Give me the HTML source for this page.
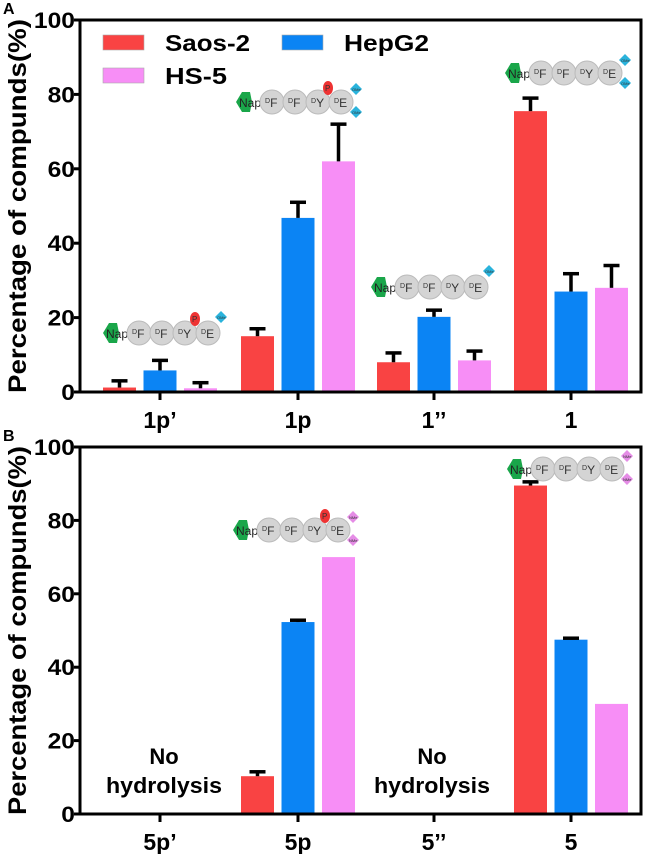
<!DOCTYPE html>
<html><head><meta charset="utf-8">
<style>
html,body{margin:0;padding:0;background:#fff;}
svg{display:block;font-family:"Liberation Sans",sans-serif;}
</style></head>
<body>
<svg id="chart" width="647" height="854" viewBox="0 0 647 854"></svg>
<script>
const categoriesA = ["1p’","1p","1’’","1"];
const saosA = [1.2, 15, 8, 75.5];
const hepA = [5.8, 46.8, 20.2, 27];
const hsA = [1, 62, 8.5, 28];
const saosErrA = [1.8, 2, 2.5, 3.5];
const hepErrA = [2.7, 4.2, 1.8, 4.8];
const hsErrA = [1.5, 10, 2.5, 6];
const categoriesB = ["5p’","5p","5’’","5"];
const saosB = [0, 10.3, 0, 89.5];
const hepB = [0, 52.3, 0, 47.5];
const hsB = [0, 70, 0, 30];
const saosErrB = [0, 1.2, 0, 1];
const hepErrB = [0, 0.5, 0, 0.4];
const hsErrB = [0, 0, 0, 0];
const yTicks = [0, 20, 40, 60, 80, 100];
const seriesNames = ["Saos-2","HepG2","HS-5"];

const NS="http://www.w3.org/2000/svg";
const svg=document.getElementById('chart');
const colors=["#f94343","#0b84f4","#f78ef6"];
function mk(tag,attrs,parent){const e=document.createElementNS(NS,tag);for(const k in attrs)e.setAttribute(k,attrs[k]);(parent||svg).appendChild(e);return e;}

const X0=80,X1=641,catX=[160,298,434,571],barW=33,step=40.5;

function panel(name,top,bottom,cats,vals,errs,letter){
  const g=mk('g',{});
  
  
  const y=v=>bottom-(bottom-top)*v/100;
  const L=mk('text',{x:3,y:top-6,'font-size':16,'font-weight':'bold'},g);L.textContent=letter;
  
  
  for(let s=0;s<3;s++){
    for(let i=0;i<cats.length;i++){
      const v=vals[s][i]; if(v<=0) continue;
      const cx=catX[i]+(s-1)*step;
      const r=mk('rect',{x:cx-barW/2,y:y(v),width:barW,height:bottom-y(v),fill:colors[s]},g);
      
      
      const e=errs[s][i];
      if(e>0){
        const eg=mk('g',{stroke:'#000','stroke-width':3.5},g);
        
        
        mk('line',{x1:cx,x2:cx,y1:y(v),y2:y(v+e)},eg);
        mk('line',{x1:cx-8,x2:cx+8,y1:y(v+e),y2:y(v+e)},eg);
      }
    }
  }
  const box=mk('rect',{x:X0,y:top,width:X1-X0,height:bottom-top,fill:'none',stroke:'#000','stroke-width':3},g);
  
  
  yTicks.forEach(t=>{
    mk('line',{x1:X0-6,x2:X0,y1:y(t),y2:y(t),stroke:'#000','stroke-width':3},g);
    const digits=String(t).length;
    const attrs={x:X0-5,y:y(t)+8,'font-size':22,'font-weight':'bold','text-anchor':'end',textLength:digits*13.7,lengthAdjust:'spacingAndGlyphs'};
    const tx=mk('text',attrs,g);
    tx.textContent=t;
    
    
  });
  cats.forEach((c,i)=>{
    mk('line',{x1:catX[i],x2:catX[i],y1:bottom,y2:bottom+8,stroke:'#000','stroke-width':3},g);
    const tx=mk('text',{x:catX[i],y:bottom+36,'font-size':23,'font-weight':'bold','text-anchor':'middle'},g);
    tx.textContent=c;
    
    
  });
  const cy=(top+bottom)/2;
  const yt=mk('text',{x:0,y:0,transform:`translate(26,${cy}) rotate(-90)`,'font-size':25,'font-weight':'bold','text-anchor':'middle',textLength:(bottom-top)+2,lengthAdjust:'spacingAndGlyphs'},g);
  yt.textContent='Percentage of compunds(%)';
  
  
  return {g,y};
}

function molecule(x,cy,phospho,tagColor,tagText,twoTags){
  const g=mk('g',{});
  
  
  mk('polygon',{points:`${x},${cy} ${x+6},${cy-10} ${x+14},${cy-10} ${x+16},${cy} ${x+14},${cy+10} ${x+6},${cy+10}`,fill:'#1aa64a'},g);
  const n=mk('text',{x:x+3,y:cy+5,'font-size':12,fill:'#222'},g);n.textContent='Nap';
  const labs=['F','F','Y','E'];
  for(let i=0;i<4;i++){
    const cx=x+36+i*23;
    mk('ellipse',{cx,cy,rx:12,ry:12,fill:'#d4d4d4',stroke:'#bbb','stroke-width':1},g);
    const t=mk('text',{x:cx-7,y:cy+5,'font-size':12,fill:'#333'},g);
    t.innerHTML=`<tspan font-size="7" dy="-4">D</tspan><tspan dy="4">${labs[i]}</tspan>`;
  }
  if(phospho){
    mk('ellipse',{cx:x+92,cy:cy-14,rx:5,ry:7,fill:'#ee3333'},g);
    const p=mk('text',{x:x+89,y:cy-11,'font-size':8,fill:'#333'},g);p.textContent='P';
  }
  const tags=twoTags?[[x+120,cy-13],[x+120,cy+10]]:[[x+118,cy-16]];
  tags.forEach(([tx,ty])=>{
    mk('polygon',{points:`${tx},${ty-6} ${tx+6},${ty} ${tx},${ty+6} ${tx-6},${ty}`,fill:tagColor},g);
    const t=mk('text',{x:tx-4,y:ty+2,'font-size':4,fill:'#333'},g);t.textContent=tagText;
  });
}

panel('panel-a',20,392,categoriesA,[saosA,hepA,hsA],[saosErrA,hepErrA,hsErrA],'A');
panel('panel-b',447,814,categoriesB,[saosB,hepB,hsB],[saosErrB,hepErrB,hsErrB],'B');

const lg=mk('g',{});


[[103,35,0,85],[282,35,1,85],[103,68,2,62]].forEach(([lx,ly,s,w])=>{
  const e=mk('g',{},lg);
  
  
  mk('rect',{x:lx,y:ly,width:41,height:15,fill:colors[s],stroke:'#aaa','stroke-width':0.6},e);
  const t=mk('text',{x:lx+62,y:ly+16,'font-size':23,'font-weight':'bold',textLength:w,lengthAdjust:'spacingAndGlyphs'},e);t.textContent=seriesNames[s];
});

molecule(103,333,true,'#2ab3dc','OMe',false);
molecule(236,102,true,'#2ab3dc','OMe',true);
molecule(371,287,false,'#2ab3dc','OMe',false);
molecule(505,73,false,'#2ab3dc','OMe',true);
molecule(233,530,true,'#e58ce6','NMe',true);
molecule(507,469,false,'#e58ce6','NMe',true);

[[164],[432]].forEach(([x])=>{
  const t=mk('text',{x,y:764,'font-size':22,'font-weight':'bold','text-anchor':'middle'});
  t.textContent='No';
  
  
  const t2=mk('text',{x,y:793,'font-size':22,'font-weight':'bold','text-anchor':'middle',textLength:116,lengthAdjust:'spacingAndGlyphs'});
  t2.textContent='hydrolysis';
  
  
});
</script>
</body></html>
